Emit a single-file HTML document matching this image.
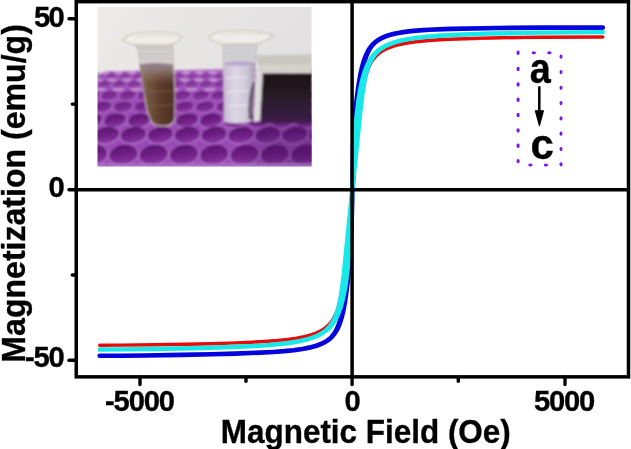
<!DOCTYPE html>
<html><head><meta charset="utf-8"><style>
html,body{margin:0;padding:0;background:#fff;width:631px;height:449px;overflow:hidden}
svg{display:block}
text{font-family:"Liberation Sans",sans-serif;font-weight:bold;fill:#000;stroke:#000;stroke-width:0.35px}
svg{will-change:transform}
</style></head><body>
<svg width="631" height="449" viewBox="0 0 631 449">
<defs>
<linearGradient id="bg" x1="0" y1="0" x2="1" y2="0.6">
<stop offset="0" stop-color="#edeae8"/><stop offset="1" stop-color="#e0dee0"/></linearGradient>
<linearGradient id="well" x1="0" y1="0" x2="0" y2="1">
<stop offset="0" stop-color="#5c1470"/><stop offset="0.45" stop-color="#6c1e82"/><stop offset="1" stop-color="#8a36a2"/></linearGradient>
<linearGradient id="brown" x1="0" y1="0" x2="1" y2="0">
<stop offset="0" stop-color="#8c7658"/><stop offset="0.25" stop-color="#735640"/><stop offset="0.6" stop-color="#5e3c2a"/><stop offset="1" stop-color="#4e3024"/></linearGradient>
<linearGradient id="clear" x1="0" y1="0" x2="1" y2="0">
<stop offset="0" stop-color="#c4bcd2"/><stop offset="0.35" stop-color="#dcd6e4"/><stop offset="0.7" stop-color="#d0c9da"/><stop offset="1" stop-color="#a89cb4"/></linearGradient>
<linearGradient id="mag" x1="0" y1="0" x2="0" y2="1">
<stop offset="0" stop-color="#1c1816"/><stop offset="0.4" stop-color="#241a22"/><stop offset="1" stop-color="#3e1e4c"/></linearGradient>
<filter id="soft" x="-5%" y="-5%" width="110%" height="110%"><feGaussianBlur stdDeviation="1.0"/></filter>
<linearGradient id="far" x1="0" y1="0" x2="0" y2="1">
<stop offset="0" stop-color="#b878cc" stop-opacity="0.7"/><stop offset="1" stop-color="#a45cbc" stop-opacity="0"/></linearGradient>
<linearGradient id="shad" x1="0" y1="0" x2="1" y2="0">
<stop offset="0" stop-color="#3a0a50" stop-opacity="0"/><stop offset="0.35" stop-color="#3a0a50" stop-opacity="0.28"/><stop offset="1" stop-color="#3a0a50" stop-opacity="0.35"/></linearGradient>
<linearGradient id="menis" x1="0" y1="0" x2="0" y2="1">
<stop offset="0" stop-color="#a39090" stop-opacity="0.95"/><stop offset="0.4" stop-color="#94807a" stop-opacity="0.7"/><stop offset="1" stop-color="#8a7060" stop-opacity="0"/></linearGradient>
<clipPath id="ph"><rect x="97.5" y="6.7" width="214.2" height="159.9"/></clipPath>
</defs>
<!-- photo -->
<g clip-path="url(#ph)">
<rect x="97.5" y="6.7" width="214.2" height="160" fill="url(#bg)"/>
<g filter="url(#soft)">
<path d="M96,79.5 L105.5,71.2 L256,69 L313,68 L313,168 L96,168 Z" fill="#9a48b4"/>
<path d="M96,79.5 L105.5,71.2 L256,69 L313,68 L313,98 L96,98 Z" fill="url(#far)"/>
<g opacity="0.45" transform="rotate(-10 84.6 76.0)"><ellipse cx="84.6" cy="76.9" rx="7.4" ry="4.2" fill="#a866c0"/><ellipse cx="84.6" cy="76.0" rx="6.0" ry="3.0" fill="url(#well)"/></g>
<g opacity="0.45" transform="rotate(-10 98.1 76.0)"><ellipse cx="98.1" cy="76.9" rx="7.4" ry="4.2" fill="#a866c0"/><ellipse cx="98.1" cy="76.0" rx="6.0" ry="3.0" fill="url(#well)"/></g>
<g opacity="0.45" transform="rotate(-10 111.6 76.0)"><ellipse cx="111.6" cy="76.9" rx="7.4" ry="4.2" fill="#a866c0"/><ellipse cx="111.6" cy="76.0" rx="6.0" ry="3.0" fill="url(#well)"/></g>
<g opacity="0.45" transform="rotate(-10 125.1 76.0)"><ellipse cx="125.1" cy="76.9" rx="7.4" ry="4.2" fill="#a866c0"/><ellipse cx="125.1" cy="76.0" rx="6.0" ry="3.0" fill="url(#well)"/></g>
<g opacity="0.45" transform="rotate(-10 138.6 76.0)"><ellipse cx="138.6" cy="76.9" rx="7.4" ry="4.2" fill="#a866c0"/><ellipse cx="138.6" cy="76.0" rx="6.0" ry="3.0" fill="url(#well)"/></g>
<g opacity="0.45" transform="rotate(-10 152.1 76.0)"><ellipse cx="152.1" cy="76.9" rx="7.4" ry="4.2" fill="#a866c0"/><ellipse cx="152.1" cy="76.0" rx="6.0" ry="3.0" fill="url(#well)"/></g>
<g opacity="0.45" transform="rotate(-10 165.6 76.0)"><ellipse cx="165.6" cy="76.9" rx="7.4" ry="4.2" fill="#a866c0"/><ellipse cx="165.6" cy="76.0" rx="6.0" ry="3.0" fill="url(#well)"/></g>
<g opacity="0.45" transform="rotate(-10 179.1 76.0)"><ellipse cx="179.1" cy="76.9" rx="7.4" ry="4.2" fill="#a866c0"/><ellipse cx="179.1" cy="76.0" rx="6.0" ry="3.0" fill="url(#well)"/></g>
<g opacity="0.45" transform="rotate(-10 192.6 76.0)"><ellipse cx="192.6" cy="76.9" rx="7.4" ry="4.2" fill="#a866c0"/><ellipse cx="192.6" cy="76.0" rx="6.0" ry="3.0" fill="url(#well)"/></g>
<g opacity="0.45" transform="rotate(-10 206.1 76.0)"><ellipse cx="206.1" cy="76.9" rx="7.4" ry="4.2" fill="#a866c0"/><ellipse cx="206.1" cy="76.0" rx="6.0" ry="3.0" fill="url(#well)"/></g>
<g opacity="0.45" transform="rotate(-10 219.6 76.0)"><ellipse cx="219.6" cy="76.9" rx="7.4" ry="4.2" fill="#a866c0"/><ellipse cx="219.6" cy="76.0" rx="6.0" ry="3.0" fill="url(#well)"/></g>
<g opacity="0.45" transform="rotate(-10 233.1 76.0)"><ellipse cx="233.1" cy="76.9" rx="7.4" ry="4.2" fill="#a866c0"/><ellipse cx="233.1" cy="76.0" rx="6.0" ry="3.0" fill="url(#well)"/></g>
<g opacity="0.45" transform="rotate(-10 246.6 76.0)"><ellipse cx="246.6" cy="76.9" rx="7.4" ry="4.2" fill="#a866c0"/><ellipse cx="246.6" cy="76.0" rx="6.0" ry="3.0" fill="url(#well)"/></g>
<g opacity="0.45" transform="rotate(-10 260.1 76.0)"><ellipse cx="260.1" cy="76.9" rx="7.4" ry="4.2" fill="#a866c0"/><ellipse cx="260.1" cy="76.0" rx="6.0" ry="3.0" fill="url(#well)"/></g>
<g opacity="0.45" transform="rotate(-10 273.6 76.0)"><ellipse cx="273.6" cy="76.9" rx="7.4" ry="4.2" fill="#a866c0"/><ellipse cx="273.6" cy="76.0" rx="6.0" ry="3.0" fill="url(#well)"/></g>
<g opacity="0.45" transform="rotate(-10 287.1 76.0)"><ellipse cx="287.1" cy="76.9" rx="7.4" ry="4.2" fill="#a866c0"/><ellipse cx="287.1" cy="76.0" rx="6.0" ry="3.0" fill="url(#well)"/></g>
<g opacity="0.45" transform="rotate(-10 300.6 76.0)"><ellipse cx="300.6" cy="76.9" rx="7.4" ry="4.2" fill="#a866c0"/><ellipse cx="300.6" cy="76.0" rx="6.0" ry="3.0" fill="url(#well)"/></g>
<g opacity="0.45" transform="rotate(-10 314.1 76.0)"><ellipse cx="314.1" cy="76.9" rx="7.4" ry="4.2" fill="#a866c0"/><ellipse cx="314.1" cy="76.0" rx="6.0" ry="3.0" fill="url(#well)"/></g>
<g opacity="0.55" transform="rotate(-10 90.3 84.0)"><ellipse cx="90.3" cy="84.9" rx="8.2" ry="4.8" fill="#a866c0"/><ellipse cx="90.3" cy="84.0" rx="6.8" ry="3.6" fill="url(#well)"/></g>
<g opacity="0.55" transform="rotate(-10 104.8 84.0)"><ellipse cx="104.8" cy="84.9" rx="8.2" ry="4.8" fill="#a866c0"/><ellipse cx="104.8" cy="84.0" rx="6.8" ry="3.6" fill="url(#well)"/></g>
<g opacity="0.55" transform="rotate(-10 119.3 84.0)"><ellipse cx="119.3" cy="84.9" rx="8.2" ry="4.8" fill="#a866c0"/><ellipse cx="119.3" cy="84.0" rx="6.8" ry="3.6" fill="url(#well)"/></g>
<g opacity="0.55" transform="rotate(-10 133.8 84.0)"><ellipse cx="133.8" cy="84.9" rx="8.2" ry="4.8" fill="#a866c0"/><ellipse cx="133.8" cy="84.0" rx="6.8" ry="3.6" fill="url(#well)"/></g>
<g opacity="0.55" transform="rotate(-10 148.3 84.0)"><ellipse cx="148.3" cy="84.9" rx="8.2" ry="4.8" fill="#a866c0"/><ellipse cx="148.3" cy="84.0" rx="6.8" ry="3.6" fill="url(#well)"/></g>
<g opacity="0.55" transform="rotate(-10 162.8 84.0)"><ellipse cx="162.8" cy="84.9" rx="8.2" ry="4.8" fill="#a866c0"/><ellipse cx="162.8" cy="84.0" rx="6.8" ry="3.6" fill="url(#well)"/></g>
<g opacity="0.55" transform="rotate(-10 177.3 84.0)"><ellipse cx="177.3" cy="84.9" rx="8.2" ry="4.8" fill="#a866c0"/><ellipse cx="177.3" cy="84.0" rx="6.8" ry="3.6" fill="url(#well)"/></g>
<g opacity="0.55" transform="rotate(-10 191.8 84.0)"><ellipse cx="191.8" cy="84.9" rx="8.2" ry="4.8" fill="#a866c0"/><ellipse cx="191.8" cy="84.0" rx="6.8" ry="3.6" fill="url(#well)"/></g>
<g opacity="0.55" transform="rotate(-10 206.3 84.0)"><ellipse cx="206.3" cy="84.9" rx="8.2" ry="4.8" fill="#a866c0"/><ellipse cx="206.3" cy="84.0" rx="6.8" ry="3.6" fill="url(#well)"/></g>
<g opacity="0.55" transform="rotate(-10 220.8 84.0)"><ellipse cx="220.8" cy="84.9" rx="8.2" ry="4.8" fill="#a866c0"/><ellipse cx="220.8" cy="84.0" rx="6.8" ry="3.6" fill="url(#well)"/></g>
<g opacity="0.55" transform="rotate(-10 235.3 84.0)"><ellipse cx="235.3" cy="84.9" rx="8.2" ry="4.8" fill="#a866c0"/><ellipse cx="235.3" cy="84.0" rx="6.8" ry="3.6" fill="url(#well)"/></g>
<g opacity="0.55" transform="rotate(-10 249.8 84.0)"><ellipse cx="249.8" cy="84.9" rx="8.2" ry="4.8" fill="#a866c0"/><ellipse cx="249.8" cy="84.0" rx="6.8" ry="3.6" fill="url(#well)"/></g>
<g opacity="0.55" transform="rotate(-10 264.3 84.0)"><ellipse cx="264.3" cy="84.9" rx="8.2" ry="4.8" fill="#a866c0"/><ellipse cx="264.3" cy="84.0" rx="6.8" ry="3.6" fill="url(#well)"/></g>
<g opacity="0.55" transform="rotate(-10 278.8 84.0)"><ellipse cx="278.8" cy="84.9" rx="8.2" ry="4.8" fill="#a866c0"/><ellipse cx="278.8" cy="84.0" rx="6.8" ry="3.6" fill="url(#well)"/></g>
<g opacity="0.55" transform="rotate(-10 293.3 84.0)"><ellipse cx="293.3" cy="84.9" rx="8.2" ry="4.8" fill="#a866c0"/><ellipse cx="293.3" cy="84.0" rx="6.8" ry="3.6" fill="url(#well)"/></g>
<g opacity="0.55" transform="rotate(-10 307.8 84.0)"><ellipse cx="307.8" cy="84.9" rx="8.2" ry="4.8" fill="#a866c0"/><ellipse cx="307.8" cy="84.0" rx="6.8" ry="3.6" fill="url(#well)"/></g>
<g opacity="0.55" transform="rotate(-10 322.3 84.0)"><ellipse cx="322.3" cy="84.9" rx="8.2" ry="4.8" fill="#a866c0"/><ellipse cx="322.3" cy="84.0" rx="6.8" ry="3.6" fill="url(#well)"/></g>
<g opacity="0.7" transform="rotate(-10 91.0 95.6)"><ellipse cx="91.0" cy="96.5" rx="9.7" ry="5.6" fill="#a866c0"/><ellipse cx="91.0" cy="95.6" rx="8.2" ry="4.4" fill="url(#well)"/></g>
<g opacity="0.7" transform="rotate(-10 109.3 95.6)"><ellipse cx="109.3" cy="96.5" rx="9.7" ry="5.6" fill="#a866c0"/><ellipse cx="109.3" cy="95.6" rx="8.2" ry="4.4" fill="url(#well)"/></g>
<g opacity="0.7" transform="rotate(-10 127.6 95.6)"><ellipse cx="127.6" cy="96.5" rx="9.7" ry="5.6" fill="#a866c0"/><ellipse cx="127.6" cy="95.6" rx="8.2" ry="4.4" fill="url(#well)"/></g>
<g opacity="0.7" transform="rotate(-10 145.9 95.6)"><ellipse cx="145.9" cy="96.5" rx="9.7" ry="5.6" fill="#a866c0"/><ellipse cx="145.9" cy="95.6" rx="8.2" ry="4.4" fill="url(#well)"/></g>
<g opacity="0.7" transform="rotate(-10 164.2 95.6)"><ellipse cx="164.2" cy="96.5" rx="9.7" ry="5.6" fill="#a866c0"/><ellipse cx="164.2" cy="95.6" rx="8.2" ry="4.4" fill="url(#well)"/></g>
<g opacity="0.7" transform="rotate(-10 182.5 95.6)"><ellipse cx="182.5" cy="96.5" rx="9.7" ry="5.6" fill="#a866c0"/><ellipse cx="182.5" cy="95.6" rx="8.2" ry="4.4" fill="url(#well)"/></g>
<g opacity="0.7" transform="rotate(-10 200.8 95.6)"><ellipse cx="200.8" cy="96.5" rx="9.7" ry="5.6" fill="#a866c0"/><ellipse cx="200.8" cy="95.6" rx="8.2" ry="4.4" fill="url(#well)"/></g>
<g opacity="0.7" transform="rotate(-10 219.1 95.6)"><ellipse cx="219.1" cy="96.5" rx="9.7" ry="5.6" fill="#a866c0"/><ellipse cx="219.1" cy="95.6" rx="8.2" ry="4.4" fill="url(#well)"/></g>
<g opacity="0.7" transform="rotate(-10 237.4 95.6)"><ellipse cx="237.4" cy="96.5" rx="9.7" ry="5.6" fill="#a866c0"/><ellipse cx="237.4" cy="95.6" rx="8.2" ry="4.4" fill="url(#well)"/></g>
<g opacity="0.7" transform="rotate(-10 255.7 95.6)"><ellipse cx="255.7" cy="96.5" rx="9.7" ry="5.6" fill="#a866c0"/><ellipse cx="255.7" cy="95.6" rx="8.2" ry="4.4" fill="url(#well)"/></g>
<g opacity="0.7" transform="rotate(-10 274.0 95.6)"><ellipse cx="274.0" cy="96.5" rx="9.7" ry="5.6" fill="#a866c0"/><ellipse cx="274.0" cy="95.6" rx="8.2" ry="4.4" fill="url(#well)"/></g>
<g opacity="0.7" transform="rotate(-10 292.3 95.6)"><ellipse cx="292.3" cy="96.5" rx="9.7" ry="5.6" fill="#a866c0"/><ellipse cx="292.3" cy="95.6" rx="8.2" ry="4.4" fill="url(#well)"/></g>
<g opacity="0.7" transform="rotate(-10 310.6 95.6)"><ellipse cx="310.6" cy="96.5" rx="9.7" ry="5.6" fill="#a866c0"/><ellipse cx="310.6" cy="95.6" rx="8.2" ry="4.4" fill="url(#well)"/></g>
<g opacity="0.7" transform="rotate(-10 328.9 95.6)"><ellipse cx="328.9" cy="96.5" rx="9.7" ry="5.6" fill="#a866c0"/><ellipse cx="328.9" cy="95.6" rx="8.2" ry="4.4" fill="url(#well)"/></g>
<g opacity="0.8" transform="rotate(-10 82.0 106.8)"><ellipse cx="82.0" cy="107.7" rx="10.7" ry="6.4" fill="#a866c0"/><ellipse cx="82.0" cy="106.8" rx="9.2" ry="5.2" fill="url(#well)"/></g>
<g opacity="0.8" transform="rotate(-10 102.5 106.8)"><ellipse cx="102.5" cy="107.7" rx="10.7" ry="6.4" fill="#a866c0"/><ellipse cx="102.5" cy="106.8" rx="9.2" ry="5.2" fill="url(#well)"/></g>
<g opacity="0.8" transform="rotate(-10 123.0 106.8)"><ellipse cx="123.0" cy="107.7" rx="10.7" ry="6.4" fill="#a866c0"/><ellipse cx="123.0" cy="106.8" rx="9.2" ry="5.2" fill="url(#well)"/></g>
<g opacity="0.8" transform="rotate(-10 143.5 106.8)"><ellipse cx="143.5" cy="107.7" rx="10.7" ry="6.4" fill="#a866c0"/><ellipse cx="143.5" cy="106.8" rx="9.2" ry="5.2" fill="url(#well)"/></g>
<g opacity="0.8" transform="rotate(-10 164.0 106.8)"><ellipse cx="164.0" cy="107.7" rx="10.7" ry="6.4" fill="#a866c0"/><ellipse cx="164.0" cy="106.8" rx="9.2" ry="5.2" fill="url(#well)"/></g>
<g opacity="0.8" transform="rotate(-10 184.5 106.8)"><ellipse cx="184.5" cy="107.7" rx="10.7" ry="6.4" fill="#a866c0"/><ellipse cx="184.5" cy="106.8" rx="9.2" ry="5.2" fill="url(#well)"/></g>
<g opacity="0.8" transform="rotate(-10 205.0 106.8)"><ellipse cx="205.0" cy="107.7" rx="10.7" ry="6.4" fill="#a866c0"/><ellipse cx="205.0" cy="106.8" rx="9.2" ry="5.2" fill="url(#well)"/></g>
<g opacity="0.8" transform="rotate(-10 225.5 106.8)"><ellipse cx="225.5" cy="107.7" rx="10.7" ry="6.4" fill="#a866c0"/><ellipse cx="225.5" cy="106.8" rx="9.2" ry="5.2" fill="url(#well)"/></g>
<g opacity="0.8" transform="rotate(-10 246.0 106.8)"><ellipse cx="246.0" cy="107.7" rx="10.7" ry="6.4" fill="#a866c0"/><ellipse cx="246.0" cy="106.8" rx="9.2" ry="5.2" fill="url(#well)"/></g>
<g opacity="0.8" transform="rotate(-10 266.5 106.8)"><ellipse cx="266.5" cy="107.7" rx="10.7" ry="6.4" fill="#a866c0"/><ellipse cx="266.5" cy="106.8" rx="9.2" ry="5.2" fill="url(#well)"/></g>
<g opacity="0.8" transform="rotate(-10 287.0 106.8)"><ellipse cx="287.0" cy="107.7" rx="10.7" ry="6.4" fill="#a866c0"/><ellipse cx="287.0" cy="106.8" rx="9.2" ry="5.2" fill="url(#well)"/></g>
<g opacity="0.8" transform="rotate(-10 307.5 106.8)"><ellipse cx="307.5" cy="107.7" rx="10.7" ry="6.4" fill="#a866c0"/><ellipse cx="307.5" cy="106.8" rx="9.2" ry="5.2" fill="url(#well)"/></g>
<g opacity="0.8" transform="rotate(-10 328.0 106.8)"><ellipse cx="328.0" cy="107.7" rx="10.7" ry="6.4" fill="#a866c0"/><ellipse cx="328.0" cy="106.8" rx="9.2" ry="5.2" fill="url(#well)"/></g>
<g opacity="1" transform="rotate(-10 91.0 120.2)"><ellipse cx="91.0" cy="121.1" rx="12.7" ry="8.0" fill="#a866c0"/><ellipse cx="91.0" cy="120.2" rx="11.2" ry="6.8" fill="url(#well)"/></g>
<g opacity="1" transform="rotate(-10 115.0 120.2)"><ellipse cx="115.0" cy="121.1" rx="12.7" ry="8.0" fill="#a866c0"/><ellipse cx="115.0" cy="120.2" rx="11.2" ry="6.8" fill="url(#well)"/></g>
<g opacity="1" transform="rotate(-10 139.0 120.2)"><ellipse cx="139.0" cy="121.1" rx="12.7" ry="8.0" fill="#a866c0"/><ellipse cx="139.0" cy="120.2" rx="11.2" ry="6.8" fill="url(#well)"/></g>
<g opacity="1" transform="rotate(-10 163.0 120.2)"><ellipse cx="163.0" cy="121.1" rx="12.7" ry="8.0" fill="#a866c0"/><ellipse cx="163.0" cy="120.2" rx="11.2" ry="6.8" fill="url(#well)"/></g>
<g opacity="1" transform="rotate(-10 187.0 120.2)"><ellipse cx="187.0" cy="121.1" rx="12.7" ry="8.0" fill="#a866c0"/><ellipse cx="187.0" cy="120.2" rx="11.2" ry="6.8" fill="url(#well)"/></g>
<g opacity="1" transform="rotate(-10 211.0 120.2)"><ellipse cx="211.0" cy="121.1" rx="12.7" ry="8.0" fill="#a866c0"/><ellipse cx="211.0" cy="120.2" rx="11.2" ry="6.8" fill="url(#well)"/></g>
<g opacity="1" transform="rotate(-10 235.0 120.2)"><ellipse cx="235.0" cy="121.1" rx="12.7" ry="8.0" fill="#a866c0"/><ellipse cx="235.0" cy="120.2" rx="11.2" ry="6.8" fill="url(#well)"/></g>
<g opacity="1" transform="rotate(-10 259.0 120.2)"><ellipse cx="259.0" cy="121.1" rx="12.7" ry="8.0" fill="#a866c0"/><ellipse cx="259.0" cy="120.2" rx="11.2" ry="6.8" fill="url(#well)"/></g>
<g opacity="1" transform="rotate(-10 283.0 120.2)"><ellipse cx="283.0" cy="121.1" rx="12.7" ry="8.0" fill="#a866c0"/><ellipse cx="283.0" cy="120.2" rx="11.2" ry="6.8" fill="url(#well)"/></g>
<g opacity="1" transform="rotate(-10 307.0 120.2)"><ellipse cx="307.0" cy="121.1" rx="12.7" ry="8.0" fill="#a866c0"/><ellipse cx="307.0" cy="120.2" rx="11.2" ry="6.8" fill="url(#well)"/></g>
<g opacity="1" transform="rotate(-10 331.0 120.2)"><ellipse cx="331.0" cy="121.1" rx="12.7" ry="8.0" fill="#a866c0"/><ellipse cx="331.0" cy="120.2" rx="11.2" ry="6.8" fill="url(#well)"/></g>
<g opacity="1" transform="rotate(-10 79.6 134.8)"><ellipse cx="79.6" cy="135.7" rx="14.2" ry="9.2" fill="#a866c0"/><ellipse cx="79.6" cy="134.8" rx="12.8" ry="8.0" fill="url(#well)"/></g>
<g opacity="1" transform="rotate(-10 106.5 134.8)"><ellipse cx="106.5" cy="135.7" rx="14.2" ry="9.2" fill="#a866c0"/><ellipse cx="106.5" cy="134.8" rx="12.8" ry="8.0" fill="url(#well)"/></g>
<g opacity="1" transform="rotate(-10 133.4 134.8)"><ellipse cx="133.4" cy="135.7" rx="14.2" ry="9.2" fill="#a866c0"/><ellipse cx="133.4" cy="134.8" rx="12.8" ry="8.0" fill="url(#well)"/></g>
<g opacity="1" transform="rotate(-10 160.3 134.8)"><ellipse cx="160.3" cy="135.7" rx="14.2" ry="9.2" fill="#a866c0"/><ellipse cx="160.3" cy="134.8" rx="12.8" ry="8.0" fill="url(#well)"/></g>
<g opacity="1" transform="rotate(-10 187.2 134.8)"><ellipse cx="187.2" cy="135.7" rx="14.2" ry="9.2" fill="#a866c0"/><ellipse cx="187.2" cy="134.8" rx="12.8" ry="8.0" fill="url(#well)"/></g>
<g opacity="1" transform="rotate(-10 214.1 134.8)"><ellipse cx="214.1" cy="135.7" rx="14.2" ry="9.2" fill="#a866c0"/><ellipse cx="214.1" cy="134.8" rx="12.8" ry="8.0" fill="url(#well)"/></g>
<g opacity="1" transform="rotate(-10 241.0 134.8)"><ellipse cx="241.0" cy="135.7" rx="14.2" ry="9.2" fill="#a866c0"/><ellipse cx="241.0" cy="134.8" rx="12.8" ry="8.0" fill="url(#well)"/></g>
<g opacity="1" transform="rotate(-10 267.9 134.8)"><ellipse cx="267.9" cy="135.7" rx="14.2" ry="9.2" fill="#a866c0"/><ellipse cx="267.9" cy="134.8" rx="12.8" ry="8.0" fill="url(#well)"/></g>
<g opacity="1" transform="rotate(-10 294.8 134.8)"><ellipse cx="294.8" cy="135.7" rx="14.2" ry="9.2" fill="#a866c0"/><ellipse cx="294.8" cy="134.8" rx="12.8" ry="8.0" fill="url(#well)"/></g>
<g opacity="1" transform="rotate(-10 321.7 134.8)"><ellipse cx="321.7" cy="135.7" rx="14.2" ry="9.2" fill="#a866c0"/><ellipse cx="321.7" cy="134.8" rx="12.8" ry="8.0" fill="url(#well)"/></g>
<g opacity="1" transform="rotate(-10 93.1 154.5)"><ellipse cx="93.1" cy="155.4" rx="15.7" ry="10.9" fill="#a866c0"/><ellipse cx="93.1" cy="154.5" rx="14.2" ry="9.8" fill="url(#well)"/></g>
<g opacity="1" transform="rotate(-10 123.4 154.5)"><ellipse cx="123.4" cy="155.4" rx="15.7" ry="10.9" fill="#a866c0"/><ellipse cx="123.4" cy="154.5" rx="14.2" ry="9.8" fill="url(#well)"/></g>
<g opacity="1" transform="rotate(-10 153.7 154.5)"><ellipse cx="153.7" cy="155.4" rx="15.7" ry="10.9" fill="#a866c0"/><ellipse cx="153.7" cy="154.5" rx="14.2" ry="9.8" fill="url(#well)"/></g>
<g opacity="1" transform="rotate(-10 184.0 154.5)"><ellipse cx="184.0" cy="155.4" rx="15.7" ry="10.9" fill="#a866c0"/><ellipse cx="184.0" cy="154.5" rx="14.2" ry="9.8" fill="url(#well)"/></g>
<g opacity="1" transform="rotate(-10 214.3 154.5)"><ellipse cx="214.3" cy="155.4" rx="15.7" ry="10.9" fill="#a866c0"/><ellipse cx="214.3" cy="154.5" rx="14.2" ry="9.8" fill="url(#well)"/></g>
<g opacity="1" transform="rotate(-10 244.6 154.5)"><ellipse cx="244.6" cy="155.4" rx="15.7" ry="10.9" fill="#a866c0"/><ellipse cx="244.6" cy="154.5" rx="14.2" ry="9.8" fill="url(#well)"/></g>
<g opacity="1" transform="rotate(-10 274.9 154.5)"><ellipse cx="274.9" cy="155.4" rx="15.7" ry="10.9" fill="#a866c0"/><ellipse cx="274.9" cy="154.5" rx="14.2" ry="9.8" fill="url(#well)"/></g>
<g opacity="1" transform="rotate(-10 305.2 154.5)"><ellipse cx="305.2" cy="155.4" rx="15.7" ry="10.9" fill="#a866c0"/><ellipse cx="305.2" cy="154.5" rx="14.2" ry="9.8" fill="url(#well)"/></g>
<g opacity="1" transform="rotate(-10 335.5 154.5)"><ellipse cx="335.5" cy="155.4" rx="15.7" ry="10.9" fill="#a866c0"/><ellipse cx="335.5" cy="154.5" rx="14.2" ry="9.8" fill="url(#well)"/></g>
<ellipse cx="91.3" cy="72.5" rx="4.5" ry="1.6" fill="#d6a6e0" opacity="0.7"/>
<ellipse cx="104.8" cy="72.5" rx="4.5" ry="1.6" fill="#d6a6e0" opacity="0.7"/>
<ellipse cx="118.3" cy="72.5" rx="4.5" ry="1.6" fill="#d6a6e0" opacity="0.7"/>
<ellipse cx="131.8" cy="72.5" rx="4.5" ry="1.6" fill="#d6a6e0" opacity="0.7"/>
<ellipse cx="145.3" cy="72.5" rx="4.5" ry="1.6" fill="#d6a6e0" opacity="0.7"/>
<ellipse cx="158.8" cy="72.5" rx="4.5" ry="1.6" fill="#d6a6e0" opacity="0.7"/>
<ellipse cx="172.3" cy="72.5" rx="4.5" ry="1.6" fill="#d6a6e0" opacity="0.7"/>
<ellipse cx="185.8" cy="72.5" rx="4.5" ry="1.6" fill="#d6a6e0" opacity="0.7"/>
<ellipse cx="199.3" cy="72.5" rx="4.5" ry="1.6" fill="#d6a6e0" opacity="0.7"/>
<ellipse cx="212.8" cy="72.5" rx="4.5" ry="1.6" fill="#d6a6e0" opacity="0.7"/>
<ellipse cx="226.3" cy="72.5" rx="4.5" ry="1.6" fill="#d6a6e0" opacity="0.7"/>
<ellipse cx="239.8" cy="72.5" rx="4.5" ry="1.6" fill="#d6a6e0" opacity="0.7"/>
<ellipse cx="253.3" cy="72.5" rx="4.5" ry="1.6" fill="#d6a6e0" opacity="0.7"/>
<ellipse cx="266.8" cy="72.5" rx="4.5" ry="1.6" fill="#d6a6e0" opacity="0.7"/>
<ellipse cx="280.3" cy="72.5" rx="4.5" ry="1.6" fill="#d6a6e0" opacity="0.7"/>
<ellipse cx="293.8" cy="72.5" rx="4.5" ry="1.6" fill="#d6a6e0" opacity="0.7"/>
<ellipse cx="307.3" cy="72.5" rx="4.5" ry="1.6" fill="#d6a6e0" opacity="0.7"/>
<ellipse cx="320.8" cy="72.5" rx="4.5" ry="1.6" fill="#d6a6e0" opacity="0.7"/>
<ellipse cx="83.0" cy="80.0" rx="4.8" ry="1.6" fill="#d6a6e0" opacity="0.7"/>
<ellipse cx="97.5" cy="80.0" rx="4.8" ry="1.6" fill="#d6a6e0" opacity="0.7"/>
<ellipse cx="112.0" cy="80.0" rx="4.8" ry="1.6" fill="#d6a6e0" opacity="0.7"/>
<ellipse cx="126.5" cy="80.0" rx="4.8" ry="1.6" fill="#d6a6e0" opacity="0.7"/>
<ellipse cx="141.0" cy="80.0" rx="4.8" ry="1.6" fill="#d6a6e0" opacity="0.7"/>
<ellipse cx="155.5" cy="80.0" rx="4.8" ry="1.6" fill="#d6a6e0" opacity="0.7"/>
<ellipse cx="170.0" cy="80.0" rx="4.8" ry="1.6" fill="#d6a6e0" opacity="0.7"/>
<ellipse cx="184.5" cy="80.0" rx="4.8" ry="1.6" fill="#d6a6e0" opacity="0.7"/>
<ellipse cx="199.0" cy="80.0" rx="4.8" ry="1.6" fill="#d6a6e0" opacity="0.7"/>
<ellipse cx="213.5" cy="80.0" rx="4.8" ry="1.6" fill="#d6a6e0" opacity="0.7"/>
<ellipse cx="228.0" cy="80.0" rx="4.8" ry="1.6" fill="#d6a6e0" opacity="0.7"/>
<ellipse cx="242.5" cy="80.0" rx="4.8" ry="1.6" fill="#d6a6e0" opacity="0.7"/>
<ellipse cx="257.0" cy="80.0" rx="4.8" ry="1.6" fill="#d6a6e0" opacity="0.7"/>
<ellipse cx="271.5" cy="80.0" rx="4.8" ry="1.6" fill="#d6a6e0" opacity="0.7"/>
<ellipse cx="286.0" cy="80.0" rx="4.8" ry="1.6" fill="#d6a6e0" opacity="0.7"/>
<ellipse cx="300.5" cy="80.0" rx="4.8" ry="1.6" fill="#d6a6e0" opacity="0.7"/>
<ellipse cx="315.0" cy="80.0" rx="4.8" ry="1.6" fill="#d6a6e0" opacity="0.7"/>
<ellipse cx="81.7" cy="89.5" rx="6.0" ry="1.6" fill="#d6a6e0" opacity="0.7"/>
<ellipse cx="100.0" cy="89.5" rx="6.0" ry="1.6" fill="#d6a6e0" opacity="0.7"/>
<ellipse cx="118.3" cy="89.5" rx="6.0" ry="1.6" fill="#d6a6e0" opacity="0.7"/>
<ellipse cx="136.6" cy="89.5" rx="6.0" ry="1.6" fill="#d6a6e0" opacity="0.7"/>
<ellipse cx="154.9" cy="89.5" rx="6.0" ry="1.6" fill="#d6a6e0" opacity="0.7"/>
<ellipse cx="173.2" cy="89.5" rx="6.0" ry="1.6" fill="#d6a6e0" opacity="0.7"/>
<ellipse cx="191.5" cy="89.5" rx="6.0" ry="1.6" fill="#d6a6e0" opacity="0.7"/>
<ellipse cx="209.8" cy="89.5" rx="6.0" ry="1.6" fill="#d6a6e0" opacity="0.7"/>
<ellipse cx="228.1" cy="89.5" rx="6.0" ry="1.6" fill="#d6a6e0" opacity="0.7"/>
<ellipse cx="246.4" cy="89.5" rx="6.0" ry="1.6" fill="#d6a6e0" opacity="0.7"/>
<ellipse cx="264.7" cy="89.5" rx="6.0" ry="1.6" fill="#d6a6e0" opacity="0.7"/>
<ellipse cx="283.0" cy="89.5" rx="6.0" ry="1.6" fill="#d6a6e0" opacity="0.7"/>
<ellipse cx="301.3" cy="89.5" rx="6.0" ry="1.6" fill="#d6a6e0" opacity="0.7"/>
<ellipse cx="319.6" cy="89.5" rx="6.0" ry="1.6" fill="#d6a6e0" opacity="0.7"/>
<rect x="240" y="118" width="75" height="50" fill="url(#shad)"/>
<rect x="96" y="163.2" width="217" height="5" fill="#b07ac6" opacity="0.7"/>
<!-- magnet -->
<path d="M256,55.5 L312,54.5 L312,73.5 L261,73.5 Z" fill="#d3d1ca"/>
<path d="M256,55.5 L312,54.5 L312,64 L258,64.5 Z" fill="#c9c7c0"/>
<rect x="261" y="73.5" width="51" height="49.5" fill="url(#mag)"/>
<path d="M256,66 L263,73.5 L260,121 L253.5,122 Z" fill="#dddbdc"/>
<path d="M262,73.5 L263,73.5 L260.5,121 L259.5,121 Z" fill="#9a969c"/>
<!-- tube 1 -->
<path d="M137.5,47 L173,47 L174.8,90 L174.8,117 Q174,126 165,126.2 Q156.5,126.2 152.5,123.5 Q148.3,117 145.8,105 Z" fill="#d2cfcd" stroke="#c4bcb6" stroke-width="0.8"/>
<path d="M139.5,64 L172.8,64 L174.3,90 L174.3,117 Q173.5,125 165,125.5 Q157,125.5 153,123 Q149,117 146.5,105 Z" fill="url(#brown)"/>
<path d="M144,92 L173.5,91 M147,106 L173.3,105" stroke="#8a6a58" stroke-width="1.2" opacity="0.6" fill="none"/>
<path d="M139.5,64 L172.8,64 L173.6,84 L142.6,84 Z" fill="url(#menis)"/>
<ellipse cx="156.3" cy="65.5" rx="16.3" ry="2.6" fill="#8f7c88"/>
<path d="M138,50 L172,50 M138.5,54 L172,54 M139,58 L172,58" stroke="#c4c0bc" stroke-width="0.8" fill="none"/>
<path d="M131,42 L173.5,42 L172.5,47.5 L136.5,47.5 Z" fill="#d2cfc8" stroke="#c0bbb0" stroke-width="0.8"/>
<path d="M122.5,40 L128,35.5 L136,33 L160,32 L177,33.5 L182,37 L178.5,41.5 L170,44.5 L136,45 L127,42.5 Z" fill="#efede6" stroke="#c6c1b2" stroke-width="1.1"/>
<path d="M136,36.5 Q158,34 176,36.5" stroke="#d9d5c8" stroke-width="1.2" fill="none"/>
<!-- tube 2 -->
<path d="M223.3,45 L256.4,45 L251.5,121 Q238,124.5 224.5,121.7 Z" fill="#d4d1d6" stroke="#bcb8c0" stroke-width="1"/>
<path d="M223.8,62 L255.5,62 L251.2,121 Q238,124.5 224.8,121.5 Z" fill="url(#clear)"/>
<ellipse cx="240" cy="63.5" rx="15.5" ry="2.5" fill="#b8aacc"/>
<path d="M253,82 Q247,96 248.5,119 L252.5,120 Q251.5,100 255,84 Z" fill="#4e4450" opacity="0.75"/>
<path d="M226,78 L248,77 M226,92 L249,91 M227,106 L249,105" stroke="#f2f0f6" stroke-width="1.2" fill="none" opacity="0.8"/>
<path d="M224,49 L256,49 M224,53 L256,53 M224,57 L256,57" stroke="#c2bfc2" stroke-width="0.8" fill="none"/>
<path d="M217,41 L262,41 L257,45.5 L223.5,45.5 Z" fill="#d6d4cf" stroke="#c2beb4" stroke-width="0.8"/>
<path d="M208.5,37 L214,33.5 L222,31.5 L246,30.5 L264,32.5 L273.5,35 L268,39.5 L258,43.5 L223,44 L213,41 Z" fill="#efede7" stroke="#c6c2b4" stroke-width="1.1"/>
<path d="M222,35 Q244,32.5 262,35" stroke="#d9d6ca" stroke-width="1.2" fill="none"/>
</g>
</g>
<!-- curves -->
<g fill="none" stroke-linecap="round" stroke-linejoin="round">
<path d="M99.70,345.21 L122.09,345.15 L154.80,344.78 L184.86,344.31 L210.49,343.74 L229.94,343.15 L246.73,342.46 L264.12,341.54 L277.38,340.55 L287.68,339.47 L296.48,338.21 L304.09,336.73 L310.52,335.03 L316.05,333.06 L318.67,331.89 L320.99,330.69 L323.01,329.47 L325.03,328.06 L327.04,326.41 L328.76,324.77 L331.32,321.76 L333.57,318.35 L335.65,314.29 L337.47,309.62 L339.04,304.44 L340.45,298.47 L341.74,291.54 L342.97,283.36 L344.24,273.15 L345.63,260.06 L352.40,189.58 L354.37,150.22 L355.34,135.55 L356.41,122.57 L357.38,112.98 L358.41,104.35 L359.54,96.60 L360.76,89.60 L362.40,82.06 L364.21,75.53 L366.24,69.91 L368.54,65.02 L370.99,61.01 L372.49,59.01 L373.98,57.28 L375.77,55.48 L377.56,53.93 L381.41,51.21 L385.55,49.00 L390.27,47.08 L395.57,45.43 L401.74,43.97 L408.49,42.75 L416.42,41.67 L425.50,40.75 L435.76,39.98 L449.22,39.26 L466.77,38.60 L499.83,37.77 L544.59,37.22 L602.80,36.96 M99.70,345.21 L122.09,345.15 L147.73,344.87 L202.24,343.95 L237.90,342.85 L256.46,341.98 L267.95,341.29 L278.26,340.47 L287.40,339.51 L295.34,338.40 L302.41,337.11 L308.59,335.63 L313.88,333.96 L318.58,332.03 L322.69,329.83 L326.51,327.15 L329.73,324.16 L332.66,320.58 L335.09,316.67 L337.27,312.06 L339.19,306.74 L340.90,300.59 L342.45,293.46 L343.77,285.75 L345.02,276.77 L346.23,266.39 L347.43,254.18 L349.75,226.07 L354.29,163.41 L356.17,139.22 L358.19,117.07 L360.18,100.22 L361.47,91.76 L362.84,84.45 L364.35,78.11 L366.01,72.59 L367.93,67.64 L370.09,63.35 L372.41,59.78 L375.03,56.64 L376.77,54.93 L378.52,53.46 L380.56,51.97 L382.60,50.68 L384.93,49.43 L387.55,48.22 L393.10,46.20 L399.52,44.48 L407.12,42.99 L415.89,41.74 L426.12,40.70 L437.52,39.87 L450.98,39.18 L472.04,38.43 L491.35,37.93 L539.03,37.27 L602.80,36.96 M99.70,345.21 L122.09,345.15 L147.73,344.87 L202.24,343.95 L237.90,342.85 L256.75,341.96 L268.24,341.27 L278.56,340.44 L287.70,339.47 L295.68,338.36 L302.78,337.05 L308.99,335.55 L314.33,333.86 L319.08,331.89 L323.25,329.65 L327.14,326.91 L330.44,323.85 L331.94,322.14 L333.45,320.16 L334.96,317.87 L336.15,315.79 L338.45,310.89 L340.49,305.22 L342.31,298.65 L343.95,291.07 L345.18,284.04 L346.31,276.18 L347.36,267.49 L348.33,257.85 L349.41,244.69 L350.40,229.71 L352.40,189.58 L358.97,121.59 L360.38,108.43 L361.66,98.08 L362.89,89.84 L364.18,82.84 L365.59,76.80 L367.14,71.59 L368.94,66.92 L370.97,62.85 L373.21,59.39 L375.75,56.34 L377.46,54.67 L379.17,53.23 L381.17,51.77 L383.18,50.51 L385.48,49.28 L388.07,48.10 L393.57,46.11 L399.95,44.41 L407.50,42.94 L416.24,41.71 L426.44,40.67 L438.11,39.83 L451.27,39.17 L472.33,38.42 L491.64,37.93 L539.03,37.27 L602.80,36.96" stroke="#e60c0c" stroke-width="3.4"/>
<path d="M99.70,355.69 L122.09,355.70 L144.49,355.44 L181.32,354.89 L211.67,354.26 L235.24,353.58 L260.29,352.60 L272.96,351.95 L283.86,351.17 L293.59,350.21 L302.13,349.03 L309.20,347.68 L315.39,346.06 L320.69,344.15 L323.05,343.08 L325.41,341.82 L328.92,339.44 L330.59,337.97 L332.25,336.23 L334.70,332.96 L336.71,329.36 L338.49,325.09 L340.03,320.12 L341.36,314.39 L342.57,307.59 L343.71,299.45 L344.87,289.20 L346.87,268.57 L348.35,251.39 L352.50,189.74 L353.15,147.75 L353.52,136.50 L354.06,126.67 L354.88,116.33 L356.00,105.02 L357.30,94.08 L358.67,84.43 L360.28,75.08 L362.02,67.19 L363.92,60.55 L366.03,54.98 L368.40,50.31 L369.67,48.33 L371.13,46.37 L372.59,44.69 L374.34,42.97 L376.09,41.51 L378.14,40.05 L381.94,37.90 L386.03,36.18 L391.01,34.60 L396.57,33.29 L403.00,32.16 L410.61,31.18 L419.09,30.39 L428.74,29.76 L438.98,29.28 L450.68,28.91 L497.78,27.98 L543.13,27.64 L602.80,27.58 M99.70,355.69 L122.09,355.70 L144.49,355.44 L181.32,354.89 L211.67,354.26 L235.24,353.58 L260.29,352.60 L272.96,351.95 L283.86,351.17 L293.59,350.21 L302.13,349.03 L309.20,347.68 L315.39,346.06 L320.69,344.15 L323.05,343.08 L325.41,341.82 L328.93,339.44 L330.64,337.97 L332.33,336.23 L334.95,332.82 L337.21,328.84 L339.16,324.18 L340.87,318.69 L342.37,312.31 L343.75,304.67 L345.07,295.46 L346.40,284.11 L348.68,260.71 L349.99,241.95 L352.51,189.74 L354.03,146.69 L354.94,129.34 L355.91,117.10 L357.28,103.12 L358.75,90.48 L360.20,80.13 L361.66,71.70 L363.24,64.65 L364.99,58.68 L366.96,53.65 L369.23,49.34 L370.44,47.50 L371.86,45.67 L373.28,44.08 L375.00,42.46 L378.44,39.87 L382.23,37.76 L386.33,36.07 L391.30,34.52 L396.86,33.23 L403.29,32.11 L410.90,31.15 L419.38,30.37 L429.04,29.74 L450.98,28.90 L498.08,27.98 L543.42,27.64 L602.80,27.58 M99.70,355.69 L122.09,355.70 L144.78,355.43 L181.62,354.88 L211.97,354.25 L235.54,353.57 L260.29,352.60 L273.25,351.93 L284.16,351.15 L293.88,350.17 L302.43,348.98 L309.50,347.61 L315.68,345.97 L320.99,344.03 L323.35,342.93 L325.70,341.64 L327.77,340.31 L329.52,338.98 L331.26,337.42 L332.71,335.91 L334.15,334.16 L335.47,332.29 L337.85,328.04 L339.94,323.03 L341.78,317.12 L343.44,310.13 L344.98,301.78 L346.45,291.83 L347.89,279.95 L349.67,261.93 L350.75,246.43 L351.43,229.37 L352.51,189.74 L355.65,134.05 L356.77,119.77 L358.52,101.48 L360.10,87.22 L361.57,76.41 L362.88,68.89 L364.31,62.59 L365.90,57.23 L367.73,52.65 L369.81,48.76 L372.28,45.33 L375.07,42.46 L378.46,39.87 L382.23,37.76 L386.33,36.07 L391.30,34.52 L396.86,33.23 L403.29,32.11 L410.90,31.15 L419.38,30.37 L429.04,29.74 L450.98,28.90 L498.08,27.98 L543.42,27.64 L602.80,27.58" stroke="#0404dc" stroke-width="4.6"/>
<path d="M99.70,349.54 L122.09,349.39 L152.15,349.00 L202.54,348.00 L237.90,346.81 L254.69,345.95 L266.48,345.20 L277.08,344.30 L286.22,343.29 L294.47,342.10 L301.54,340.76 L307.70,339.23 L312.94,337.54 L317.86,335.45 L321.90,333.21 L325.33,330.74 L328.46,327.81 L331.27,324.34 L333.49,320.76 L335.55,316.43 L337.34,311.48 L338.93,305.75 L340.35,299.09 L342.07,288.40 L343.78,274.45 L349.09,221.39 L352.39,189.68 L353.63,158.93 L354.87,136.89 L356.46,117.41 L357.38,108.77 L358.40,100.77 L359.78,91.93 L361.28,84.13 L362.95,77.26 L364.79,71.22 L366.80,66.02 L369.05,61.47 L371.49,57.59 L374.51,53.88 L376.32,52.08 L378.41,50.28 L380.50,48.74 L382.59,47.41 L384.97,46.11 L387.63,44.84 L393.25,42.72 L400.04,40.82 L407.68,39.24 L416.46,37.91 L426.70,36.76 L438.40,35.81 L452.15,34.99 L471.16,34.18 L490.47,33.57 L538.44,32.66 L602.80,32.08 M99.70,349.54 L122.09,349.39 L152.44,348.99 L202.83,348.00 L238.19,346.80 L254.99,345.94 L266.77,345.17 L277.38,344.27 L286.51,343.25 L294.76,342.05 L301.84,340.69 L308.02,339.15 L313.61,337.32 L318.31,335.31 L322.42,333.03 L326.23,330.26 L329.45,327.19 L332.38,323.52 L334.71,319.71 L336.96,314.94 L338.93,309.45 L340.69,303.07 L342.28,295.64 L343.62,287.75 L344.89,278.59 L346.12,267.93 L347.34,255.50 L349.69,226.93 L354.33,162.86 L356.25,138.06 L358.30,115.48 L360.32,98.25 L361.62,89.62 L363.02,82.11 L364.54,75.62 L366.22,69.97 L368.03,65.16 L370.08,60.93 L372.40,57.17 L375.30,53.56 L377.04,51.80 L379.08,50.04 L381.12,48.54 L383.16,47.24 L385.49,45.96 L388.12,44.72 L393.66,42.62 L400.38,40.75 L407.97,39.19 L416.75,37.87 L426.99,36.73 L438.69,35.79 L452.44,34.98 L471.45,34.17 L490.76,33.57 L538.44,32.66 L602.80,32.08 M99.70,349.54 L122.09,349.39 L152.44,348.99 L203.13,347.99 L238.48,346.78 L255.28,345.92 L267.07,345.15 L277.67,344.24 L286.81,343.21 L295.06,342.00 L302.13,340.63 L308.34,339.06 L313.99,337.21 L318.76,335.17 L322.95,332.84 L326.86,330.01 L328.68,328.40 L330.50,326.53 L332.02,324.73 L333.55,322.66 L336.19,318.25 L338.56,313.11 L340.67,307.13 L342.57,300.21 L344.28,292.27 L345.51,285.17 L346.64,277.38 L347.67,268.80 L348.61,259.45 L349.72,245.69 L350.67,230.35 L351.48,213.32 L352.40,189.55 L360.20,113.11 L362.36,94.55 L363.57,86.33 L364.84,79.40 L366.23,73.41 L367.77,68.22 L369.56,63.53 L371.62,59.41 L373.83,55.98 L376.34,52.94 L378.03,51.27 L380.02,49.59 L382.01,48.15 L384.00,46.90 L386.29,45.66 L388.88,44.46 L394.64,42.34 L401.00,40.61 L408.56,39.09 L417.63,37.76 L427.87,36.65 L439.57,35.73 L453.32,34.94 L472.33,34.14 L491.64,33.54 L539.03,32.66 L602.80,32.08" stroke="#18e8e8" stroke-width="4.4"/>
</g>
<!-- frame -->
<g stroke="#000" fill="none">
<rect x="76.25" y="1.65" width="552.25" height="375.2" stroke-width="3.5"/>
<line x1="76" y1="189.7" x2="628.5" y2="189.7" stroke-width="3.4"/>
<line x1="352.1" y1="1" x2="352.1" y2="377" stroke-width="3.5"/>
<g stroke-width="3.4" stroke-linecap="round">
<line x1="69" y1="18.8" x2="76" y2="18.8"/>
<line x1="69" y1="189.7" x2="76" y2="189.7"/>
<line x1="69" y1="360.2" x2="76" y2="360.2"/>
<line x1="72.3" y1="104.1" x2="76" y2="104.1"/>
<line x1="72.3" y1="275" x2="76" y2="275"/>
<line x1="140" y1="377" x2="140" y2="384.5"/>
<line x1="352.1" y1="377" x2="352.1" y2="384.5"/>
<line x1="565" y1="377" x2="565" y2="384.5"/>
<line x1="246" y1="377" x2="246" y2="381.3"/>
<line x1="458.3" y1="377" x2="458.3" y2="381.3"/>
</g>
</g>
<!-- legend -->
<g fill="#7d14e6">
<ellipse cx="518.1" cy="52.8" rx="1.6" ry="2.2"/>
<ellipse cx="518.1" cy="69" rx="1.6" ry="2.2"/>
<ellipse cx="518.1" cy="84.4" rx="1.6" ry="2.2"/>
<ellipse cx="518.1" cy="99.8" rx="1.6" ry="2.2"/>
<ellipse cx="518.1" cy="115" rx="1.6" ry="2.2"/>
<ellipse cx="518.1" cy="130.4" rx="1.6" ry="2.2"/>
<ellipse cx="518.1" cy="145.8" rx="1.6" ry="2.2"/>
<ellipse cx="518.1" cy="161.1" rx="1.6" ry="2.2"/>
<ellipse cx="561" cy="56.7" rx="1.5" ry="2.1"/>
<ellipse cx="561" cy="72.1" rx="1.5" ry="2.1"/>
<ellipse cx="561" cy="87.8" rx="1.5" ry="2.1"/>
<ellipse cx="561" cy="103.1" rx="1.5" ry="2.1"/>
<ellipse cx="561" cy="118.4" rx="1.5" ry="2.1"/>
<ellipse cx="561" cy="133.7" rx="1.5" ry="2.1"/>
<ellipse cx="561" cy="149.1" rx="1.5" ry="2.1"/>
<ellipse cx="561" cy="164.3" rx="1.5" ry="2.1"/>
<ellipse cx="533.8" cy="52.8" rx="2.1" ry="1.5"/>
<ellipse cx="549.4" cy="52.8" rx="2.1" ry="1.5"/>
<ellipse cx="530.4" cy="165" rx="2.1" ry="1.5"/>
<ellipse cx="545.9" cy="165" rx="2.1" ry="1.5"/>
</g>
<text x="0" y="0" font-size="42" text-anchor="middle" transform="translate(540.15,82.6) scale(0.9,1)">a</text>
<text x="542.3" y="158.6" font-size="42" text-anchor="middle">c</text>
<line x1="539.3" y1="87.3" x2="539.3" y2="112" stroke="#000" stroke-width="2.5" stroke-linecap="round"/>
<path d="M535.4,110.8 L543.4,110.8 L539.4,125.6 Z" fill="#000" stroke="#000" stroke-width="1.2" stroke-linejoin="round"/>
<!-- tick labels -->
<g font-size="29.2">
<text x="64.8" y="26.7" text-anchor="end" textLength="30.8" lengthAdjust="spacing">50</text>
<text x="64.8" y="197.1" text-anchor="end">0</text>
<text x="64.8" y="367.2" text-anchor="end" textLength="39.8" lengthAdjust="spacing">-50</text>
<text x="140" y="410.7" text-anchor="middle" textLength="70.1" lengthAdjust="spacing">-5000</text>
<text x="352.5" y="410.9" text-anchor="middle">0</text>
<text x="564.65" y="410.8" text-anchor="middle" textLength="61.4" lengthAdjust="spacing">5000</text>
</g>
<text x="365.8" y="442.9" font-size="33.6" text-anchor="middle" textLength="289.9" lengthAdjust="spacingAndGlyphs">Magnetic Field (Oe)</text>
<text transform="translate(24.5,193.4) rotate(-90)" font-size="33.6" text-anchor="middle" textLength="338.5" lengthAdjust="spacingAndGlyphs">Magnetization (emu/g)</text>
</svg>
</body></html>
